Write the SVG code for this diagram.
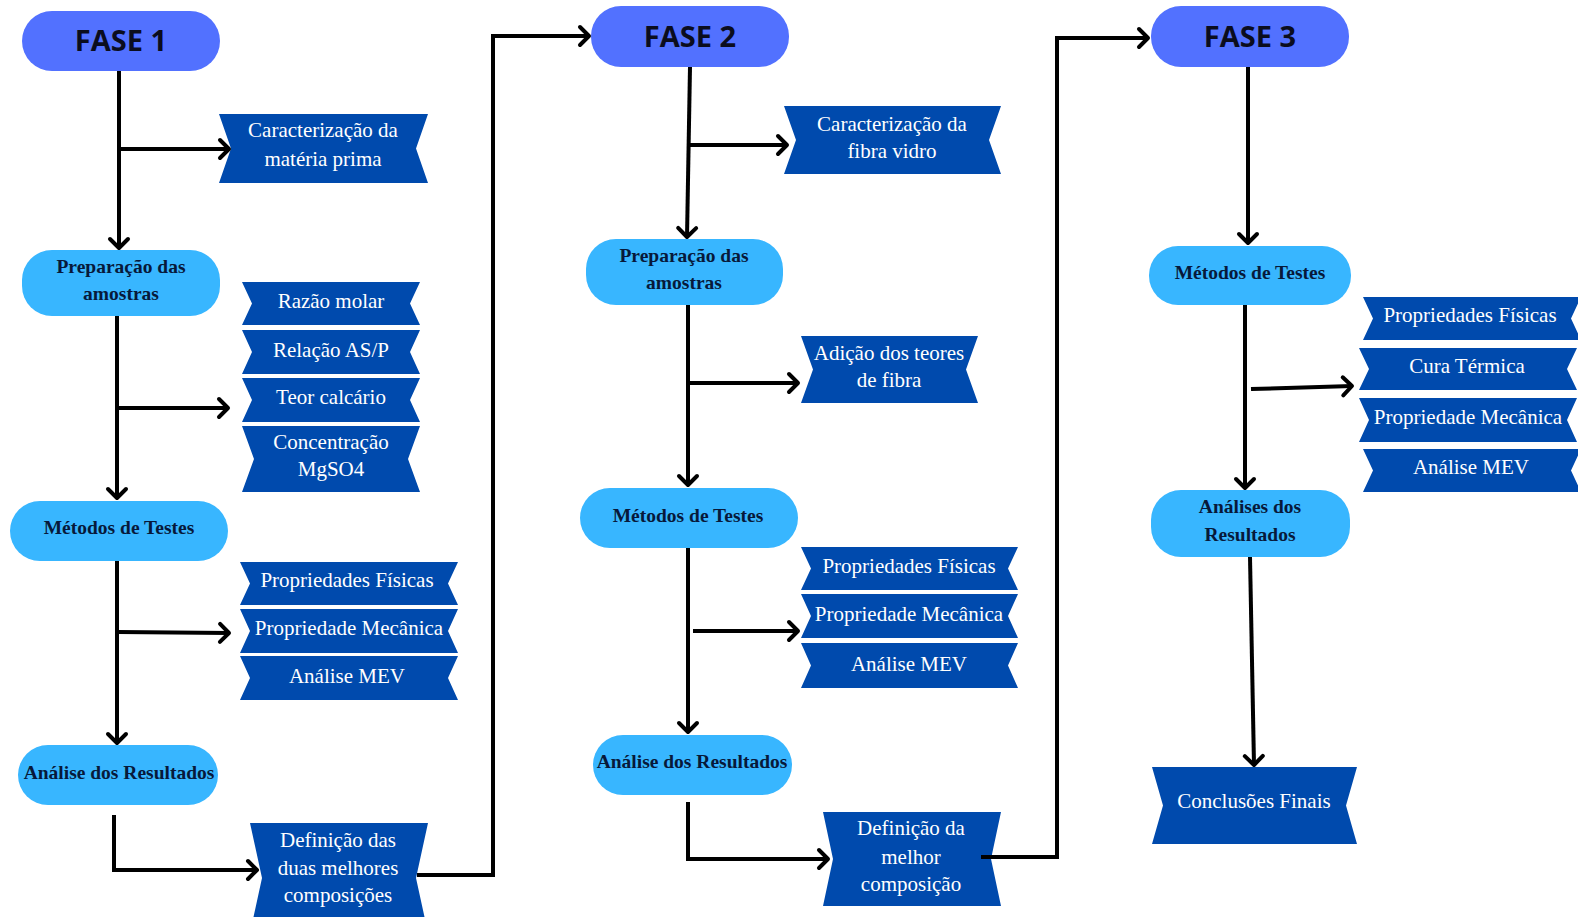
<svg xmlns="http://www.w3.org/2000/svg" width="1578" height="917" viewBox="0 0 1578 917">
<defs>
<style>
.phase{fill:#5271ff}
.pill{fill:#38b6ff}
.ban{fill:#004aad}
.tf{font-family:"Open Sans","Liberation Sans",sans-serif;font-weight:700;font-size:29px;fill:#0b0d1e;text-anchor:middle}
.tp{font-family:"Liberation Serif",serif;font-weight:700;font-size:19.5px;fill:#07193a;text-anchor:middle}
.tb{font-family:"Liberation Serif",serif;font-size:21px;fill:#ffffff;text-anchor:middle}
.con{fill:none;stroke:#000;stroke-width:4}
</style>
<marker id="arr" markerUnits="userSpaceOnUse" markerWidth="30" markerHeight="30" refX="15" refY="15" orient="auto" overflow="visible">
<path d="M6,6 L15,15 L6,24" fill="none" stroke="#000" stroke-width="4" stroke-linecap="round" stroke-linejoin="round"/>
</marker>
</defs>
<rect width="1578" height="917" fill="#ffffff"/>

<g id="fase1"><rect class="phase" x="22" y="11" width="198" height="60" rx="30"/><text class="tf" x="121" y="51">FASE 1</text></g>
<g id="car1"><path class="ban" d="M219,114 L428,114 L416,148.5 L428,183 L219,183 L231,148.5 Z"/><text class="tb" x="323" y="137">Caracterização da</text><text class="tb" x="323" y="166">matéria prima</text></g>
<g id="prep1"><rect class="pill" x="22" y="250" width="198" height="66" rx="30"/><text class="tp" x="121" y="273">Preparação das</text><text class="tp" x="121" y="300">amostras</text></g>
<g id="razao"><path class="ban" d="M242,282 L420,282 L410,303.5 L420,325 L242,325 L252,303.5 Z"/><text class="tb" x="331" y="308">Razão molar</text></g>
<g id="relacao"><path class="ban" d="M242,330 L420,330 L410,352 L420,374 L242,374 L252,352 Z"/><text class="tb" x="331" y="357">Relação AS/P</text></g>
<g id="teor"><path class="ban" d="M242,378 L420,378 L410,400 L420,422 L242,422 L252,400 Z"/><text class="tb" x="331" y="404">Teor calcário</text></g>
<g id="conc"><path class="ban" d="M242,426 L420,426 L408,459 L420,492 L242,492 L254,459 Z"/><text class="tb" x="331" y="449">Concentração</text><text class="tb" x="331" y="476">MgSO4</text></g>
<g id="met1"><rect class="pill" x="10" y="501" width="218" height="60" rx="30"/><text class="tp" x="119" y="534">Métodos de Testes</text></g>
<g id="pf1"><path class="ban" d="M240,562 L458,562 L448,583.5 L458,605 L240,605 L250,583.5 Z"/><text class="tb" x="347" y="587">Propriedades Físicas</text></g>
<g id="pm1"><path class="ban" d="M240,609 L458,609 L448,631 L458,653 L240,653 L250,631 Z"/><text class="tb" x="349" y="635">Propriedade Mecânica</text></g>
<g id="mev1"><path class="ban" d="M240,656 L458,656 L448,678 L458,700 L240,700 L250,678 Z"/><text class="tb" x="347" y="683">Análise MEV</text></g>
<g id="ana1"><rect class="pill" x="18" y="745" width="200" height="60" rx="30"/><text class="tp" x="119" y="779">Análise dos Resultados</text></g>
<g id="def1"><path class="ban" d="M250,823 L428,823 L416,878 L428,933 L250,933 L262,878 Z"/><text class="tb" x="338" y="847">Definição das</text><text class="tb" x="338" y="875">duas melhores</text><text class="tb" x="338" y="902">composições</text></g>

<g id="fase2"><rect class="phase" x="591" y="6" width="198" height="61" rx="30"/><text class="tf" x="690" y="46.5">FASE 2</text></g>
<g id="car2"><path class="ban" d="M784,106 L1001,106 L989,140 L1001,174 L784,174 L796,140 Z"/><text class="tb" x="892" y="131">Caracterização da</text><text class="tb" x="892" y="158">fibra vidro</text></g>
<g id="prep2"><rect class="pill" x="586" y="239" width="197" height="66" rx="30"/><text class="tp" x="684" y="262">Preparação das</text><text class="tp" x="684" y="289">amostras</text></g>
<g id="adicao"><path class="ban" d="M801,336 L978,336 L966,369.5 L978,403 L801,403 L813,369.5 Z"/><text class="tb" x="889" y="360">Adição dos teores</text><text class="tb" x="889" y="387">de fibra</text></g>
<g id="met2"><rect class="pill" x="580" y="488" width="218" height="60" rx="30"/><text class="tp" x="688" y="522">Métodos de Testes</text></g>
<g id="pf2"><path class="ban" d="M801,547 L1018,547 L1008,568.5 L1018,590 L801,590 L811,568.5 Z"/><text class="tb" x="909" y="573">Propriedades Físicas</text></g>
<g id="pm2"><path class="ban" d="M801,594 L1018,594 L1008,616 L1018,638 L801,638 L811,616 Z"/><text class="tb" x="909" y="621">Propriedade Mecânica</text></g>
<g id="mev2"><path class="ban" d="M801,643 L1018,643 L1008,665.5 L1018,688 L801,688 L811,665.5 Z"/><text class="tb" x="909" y="671">Análise MEV</text></g>
<g id="ana2"><rect class="pill" x="593" y="735" width="199" height="60" rx="30"/><text class="tp" x="692" y="768">Análise dos Resultados</text></g>
<g id="def2"><path class="ban" d="M823,812 L1001,812 L991,859 L1001,906 L823,906 L833,859 Z"/><text class="tb" x="911" y="835">Definição da</text><text class="tb" x="911" y="864">melhor</text><text class="tb" x="911" y="891">composição</text></g>

<g id="fase3"><rect class="phase" x="1151" y="6" width="198" height="61" rx="30"/><text class="tf" x="1250" y="46.5">FASE 3</text></g>
<g id="met3"><rect class="pill" x="1149" y="246" width="202" height="59" rx="29"/><text class="tp" x="1250" y="279">Métodos de Testes</text></g>
<g id="pf3"><path class="ban" d="M1363,297 L1581,297 L1571,318.5 L1581,340 L1363,340 L1373,318.5 Z"/><text class="tb" x="1470" y="322">Propriedades Físicas</text></g>
<g id="cura"><path class="ban" d="M1359,348 L1577,348 L1567,369 L1577,390 L1359,390 L1369,369 Z"/><text class="tb" x="1467" y="373">Cura Térmica</text></g>
<g id="pm3"><path class="ban" d="M1359,398 L1577,398 L1567,420 L1577,442 L1359,442 L1369,420 Z"/><text class="tb" x="1468" y="424">Propriedade Mecânica</text></g>
<g id="mev3"><path class="ban" d="M1363,449 L1581,449 L1571,470.5 L1581,492 L1363,492 L1373,470.5 Z"/><text class="tb" x="1471" y="474">Análise MEV</text></g>
<g id="ana3"><rect class="pill" x="1151" y="490" width="199" height="67" rx="30"/><text class="tp" x="1250" y="513">Análises dos</text><text class="tp" x="1250" y="541">Resultados</text></g>
<g id="concl"><path class="ban" d="M1152,767 L1357,767 L1346,805.5 L1357,844 L1152,844 L1163,805.5 Z"/><text class="tb" x="1254" y="808">Conclusões Finais</text></g>

<g id="connectors">
<path class="con" d="M119,71 L119,248" marker-end="url(#arr)"/>
<path class="con" d="M119,149 L229,149" marker-end="url(#arr)"/>
<path class="con" d="M117,316 L117,498" marker-end="url(#arr)"/>
<path class="con" d="M117,408 L228,408" marker-end="url(#arr)"/>
<path class="con" d="M117,561 L117,743" marker-end="url(#arr)"/>
<path class="con" d="M118,632 L229,633" marker-end="url(#arr)"/>
<path class="con" d="M114,815 L114,870 L257,870" marker-end="url(#arr)"/>
<path class="con" d="M417,875 L493,875 L493,36 L589,36" marker-end="url(#arr)"/>
<path class="con" d="M690,67 L687,237" marker-end="url(#arr)"/>
<path class="con" d="M690,145 L787,145" marker-end="url(#arr)"/>
<path class="con" d="M688,305 L688,485" marker-end="url(#arr)"/>
<path class="con" d="M688,383 L798,383" marker-end="url(#arr)"/>
<path class="con" d="M688,548 L688,732" marker-end="url(#arr)"/>
<path class="con" d="M693,631 L798,631" marker-end="url(#arr)"/>
<path class="con" d="M688,802 L688,859 L828,859" marker-end="url(#arr)"/>
<path class="con" d="M981,857 L1057,857 L1057,38 L1148,38" marker-end="url(#arr)"/>
<path class="con" d="M1248,67 L1248,243" marker-end="url(#arr)"/>
<path class="con" d="M1245,305 L1245,488" marker-end="url(#arr)"/>
<path class="con" d="M1251,389 L1352,386" marker-end="url(#arr)"/>
<path class="con" d="M1250,557 L1254,765" marker-end="url(#arr)"/>
</g>
</svg>
